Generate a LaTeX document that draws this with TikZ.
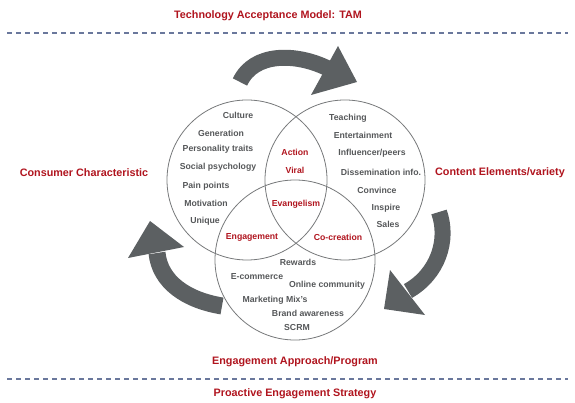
\documentclass[tikz,border=0pt]{standalone}
\usepackage{fontspec}
\setmainfont{Liberation Sans}
\definecolor{txtgray}{HTML}{555759}
\definecolor{ringgray}{HTML}{77797B}
\definecolor{arrgray}{HTML}{5C6062}
\definecolor{lblred}{HTML}{B0141E}
\definecolor{dashblue}{HTML}{6A789C}
\begin{document}
\begin{tikzpicture}[x=1pt,y=-1pt,
  txt/.style={font=\bfseries\fontsize{8.7}{10}\selectfont, text=txtgray, inner sep=0pt},
  inred/.style={font=\bfseries\fontsize{8.7}{10}\selectfont, text=lblred, inner sep=0pt},
  outred/.style={font=\bfseries\fontsize{10.8}{13}\selectfont, text=lblred, inner sep=0pt},
  ring/.style={circle, draw=ringgray, line width=0.8pt, minimum size=160pt, inner sep=0pt},
  band/.style={draw=arrgray, line width=16pt},
  headtri/.style={fill=arrgray},
  dashline/.style={draw=dashblue, line width=1.1pt, dash pattern=on 5pt off 4pt}
]
\useasboundingbox (0,0) rectangle (575,403);

% circles
\node[ring] (cL) at (247,180) {};
\node[ring] (cR) at (345,180) {};
\node[ring] (cB) at (295,260) {};

% top arrow
\coordinate (t0) at (240,82);
\coordinate (t1) at (327,68);
\draw[band] (t0) .. controls (254,52) and (296,53) .. (t1);
\coordinate (th1) at (338,46);
\coordinate (th2) at (357,82);
\coordinate (th3) at (311,95);
\fill[headtri] (th1) -- (th2) -- (th3) -- cycle;

% right arrow
\coordinate (r0) at (439,212);
\coordinate (r1) at (408,291);
\draw[band] (r0) .. controls (449,240) and (438,274) .. (r1);
\coordinate (rh1) at (390,270);
\coordinate (rh2) at (384,309);
\coordinate (rh3) at (425,315);
\fill[headtri] (rh1) -- (rh2) -- (rh3) -- cycle;

% left arrow
\coordinate (l0) at (222,306);
\coordinate (l1) at (157,253);
\draw[band, line width=17pt] (l0) .. controls (186,300) and (160,282) .. (l1);
\coordinate (lh1) at (150,221);
\coordinate (lh2) at (128,258);
\coordinate (lh3) at (184,247);
\fill[headtri] (lh1) -- (lh2) -- (lh3) -- cycle;

% dashed lines
\coordinate (d1a) at (7,33);
\coordinate (d1b) at (568,33);
\draw[dashline] (d1a) -- (d1b);
\coordinate (d2a) at (7,379);
\coordinate (d2b) at (568,379);
\draw[dashline] (d2a) -- (d2b);

% outer labels
\node[outred] (title) at (268,16) {Technology Acceptance Model: TAM};
\node[outred] (cons) at (84,173) {Consumer Characteristic};
\node[outred] (cont) at (500,173) {Content Elements/variety};
\node[outred] (eng) at (295,362) {Engagement Approach/Program};
\node[outred] (pro) at (295,394) {Proactive Engagement Strategy};

% left circle texts
\node[txt] (a1) at (238,115) {Culture};
\node[txt] (a2) at (221,133) {Generation};
\node[txt] (a3) at (218,149) {Personality traits};
\node[txt] (a4) at (218,167) {Social psychology};
\node[txt] (a5) at (206,186) {Pain points};
\node[txt] (a6) at (206,203) {Motivation};
\node[txt] (a7) at (205,221) {Unique};

% right circle texts
\node[txt] (b1) at (348,118) {Teaching};
\node[txt] (b2) at (363,135) {Entertainment};
\node[txt] (b3) at (372,153) {Influencer/peers};
\node[txt] (b4) at (381,172) {Dissemination info.};
\node[txt] (b5) at (377,190) {Convince};
\node[txt] (b6) at (386,208) {Inspire};
\node[txt] (b7) at (388,224) {Sales};

% bottom circle texts
\node[txt] (c1) at (298,262) {Rewards};
\node[txt] (c2) at (257,277) {E-commerce};
\node[txt] (c3) at (327,285) {Online community};
\node[txt] (c4) at (275,300) {Marketing Mix's};
\node[txt] (c5) at (308,313) {Brand awareness};
\node[txt] (c6) at (297,328) {SCRM};

% intersections
\node[inred] (i1) at (295,152) {Action};
\node[inred] (i2) at (295,170) {Viral};
\node[inred] (i3) at (296,204) {Evangelism};
\node[inred] (i4) at (252,237) {Engagement};
\node[inred] (i5) at (338,237) {Co-creation};
\end{tikzpicture}
\end{document}
